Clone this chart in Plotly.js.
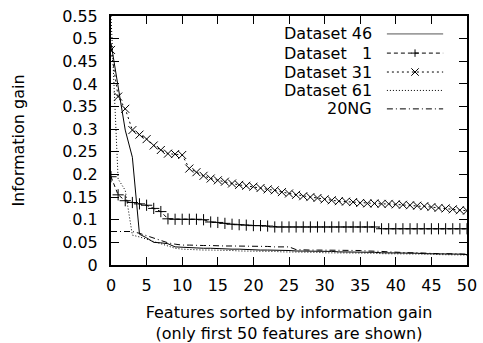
<!DOCTYPE html>
<html><head><meta charset="utf-8">
<script src="https://cdn.plot.ly/plotly-3.0.1.min.js"></script>
<style>html,body{margin:0;padding:0;background:#fff}#chart{width:483px;height:343px}</style>
</head><body><div id="chart"></div>
<script>
const features = [];
for (let i = 0; i <= 50; i++) features.push(i);

const ds46 = [0.490,0.395,0.298,0.238,0.068,0.060,0.050,0.049,0.047,0.040,0.039,0.038,0.038,0.037,0.037,0.036,0.036,0.035,0.035,0.034,0.034,0.033,0.033,0.033,0.032,0.032,0.031,0.031,0.031,0.030,0.030,0.030,0.029,0.029,0.029,0.028,0.028,0.028,0.027,0.027,0.027,0.026,0.026,0.026,0.025,0.025,0.025,0.024,0.024,0.024,0.023];
const ds1 = [0.195,0.155,0.142,0.138,0.135,0.132,0.125,0.118,0.102,0.101,0.101,0.101,0.101,0.100,0.095,0.094,0.092,0.090,0.089,0.088,0.087,0.087,0.086,0.084,0.084,0.084,0.084,0.084,0.084,0.084,0.084,0.084,0.084,0.084,0.084,0.084,0.084,0.084,0.080,0.080,0.080,0.080,0.080,0.080,0.080,0.080,0.080,0.080,0.080,0.080,0.080];
const ds31 = [0.475,0.372,0.345,0.298,0.288,0.278,0.264,0.254,0.246,0.245,0.243,0.213,0.205,0.197,0.191,0.187,0.184,0.180,0.177,0.175,0.173,0.170,0.167,0.165,0.161,0.158,0.155,0.152,0.150,0.148,0.145,0.143,0.141,0.140,0.139,0.137,0.136,0.136,0.135,0.135,0.134,0.133,0.132,0.131,0.130,0.128,0.126,0.125,0.123,0.121,0.120];
const ds61 = [0.550,0.190,0.165,0.066,0.062,0.057,0.052,0.047,0.042,0.037,0.035,0.034,0.034,0.033,0.033,0.033,0.032,0.032,0.031,0.031,0.031,0.030,0.030,0.030,0.029,0.029,0.029,0.028,0.028,0.028,0.027,0.027,0.027,0.027,0.026,0.026,0.026,0.026,0.025,0.025,0.025,0.025,0.024,0.024,0.024,0.024,0.023,0.023,0.023,0.022,0.022];
const ng20 = [0.074,0.074,0.074,0.074,0.070,0.065,0.059,0.054,0.049,0.046,0.044,0.044,0.043,0.043,0.043,0.042,0.042,0.042,0.042,0.041,0.041,0.041,0.041,0.040,0.040,0.040,0.034,0.033,0.033,0.033,0.033,0.033,0.032,0.032,0.032,0.032,0.031,0.031,0.030,0.029,0.028,0.028,0.027,0.027,0.026,0.026,0.025,0.025,0.025,0.024,0.024];

const seriesNames = ["Dataset 46", "Dataset\u00a0\u00a0\u00a01", "Dataset 31", "Dataset 61", "20NG"];
const xTicks = [0,5,10,15,20,25,30,35,40,45,50];
const yTicks = [0,0.05,0.1,0.15,0.2,0.25,0.3,0.35,0.4,0.45,0.5,0.55];
const yTickText = ["0","0.05","0.1","0.15","0.2","0.25","0.3","0.35","0.4","0.45","0.5","0.55"];

const F = "DejaVu Sans, sans-serif";
const FS = 16;
const styles = [
  {dash: "solid", sym: null},
  {dash: "4px,3px", sym: "cross-thin-open"},
  {dash: "2px,3px", sym: "x-thin-open"},
  {dash: "1px,2px", sym: null},
  {dash: "6px,3px,1px,3px", sym: null}
];
const ys = [ds46, ds1, ds31, ds61, ng20];
const traces = ys.map((y, i) => {
  const t = {
    x: features, y: y, type: "scatter",
    mode: styles[i].sym ? "lines+markers" : "lines",
    line: {color: "#000", width: 1, dash: styles[i].dash},
    name: seriesNames[i], showlegend: false, cliponaxis: true
  };
  if (styles[i].sym) t.marker = {symbol: styles[i].sym, size: 8, color: "#000", line: {color: "#000", width: 1}};
  return t;
});

// legend drawn gnuplot-style: text then sample
const legY = [0.928, 0.851, 0.775, 0.701, 0.627];
const annotations = [];
const shapes = [];
legY.forEach((yy, i) => {
  annotations.push({xref: "paper", yref: "paper", x: 0.738, y: yy, xanchor: "right", yanchor: "middle",
    text: seriesNames[i], showarrow: false, font: {family: F, size: FS, color: "#000"}});
  shapes.push({type: "line", xref: "paper", yref: "paper", x0: 0.775, x1: 0.933, y0: yy, y1: yy,
    line: {color: i === 0 ? "#555" : "#000", width: 1, dash: styles[i].dash}});
});
const mx = 0.854, dx = 0.0105, dy = 0.015;
shapes.push({type: "line", xref: "paper", yref: "paper", x0: mx - dx, x1: mx + dx, y0: legY[1], y1: legY[1], line: {color: "#000", width: 1}});
shapes.push({type: "line", xref: "paper", yref: "paper", x0: mx, x1: mx, y0: legY[1] - dy, y1: legY[1] + dy, line: {color: "#000", width: 1}});
shapes.push({type: "line", xref: "paper", yref: "paper", x0: mx - dx, x1: mx + dx, y0: legY[2] - dy, y1: legY[2] + dy, line: {color: "#000", width: 1}});
shapes.push({type: "line", xref: "paper", yref: "paper", x0: mx - dx, x1: mx + dx, y0: legY[2] + dy, y1: legY[2] - dy, line: {color: "#000", width: 1}});

const layout = {
  width: 483, height: 343,
  margin: {l: 111, r: 16, t: 16, b: 78},
  paper_bgcolor: "#fff", plot_bgcolor: "#fff",
  font: {family: F, size: FS, color: "#000"},
  showlegend: false,
  xaxis: {
    range: [0, 50], tickvals: xTicks, ticktext: xTicks.map(String),
    ticks: "inside", ticklen: 8, tickwidth: 1, tickcolor: "#000",
    showline: true, linecolor: "#000", linewidth: 2, mirror: "ticks",
    showgrid: false, zeroline: false, ticklabelstandoff: 5,
    tickfont: {family: F, size: FS},
    title: {text: "Features sorted by information gain<br>(only first 50 features are shown)", font: {family: F, size: FS}, standoff: 14}
  },
  yaxis: {
    range: [0, 0.55], tickvals: yTicks, ticktext: yTickText,
    ticks: "inside", ticklen: 8, tickwidth: 1, tickcolor: "#000",
    showline: true, linecolor: "#000", linewidth: 2, mirror: "ticks",
    showgrid: false, zeroline: false, ticklabelstandoff: 8,
    tickfont: {family: F, size: FS},
    title: {text: "Information gain", font: {family: F, size: FS}, standoff: 34}
  },
  annotations: annotations, shapes: shapes
};
Plotly.newPlot("chart", traces, layout, {staticPlot: true, displayModeBar: false});
</script></body></html>
